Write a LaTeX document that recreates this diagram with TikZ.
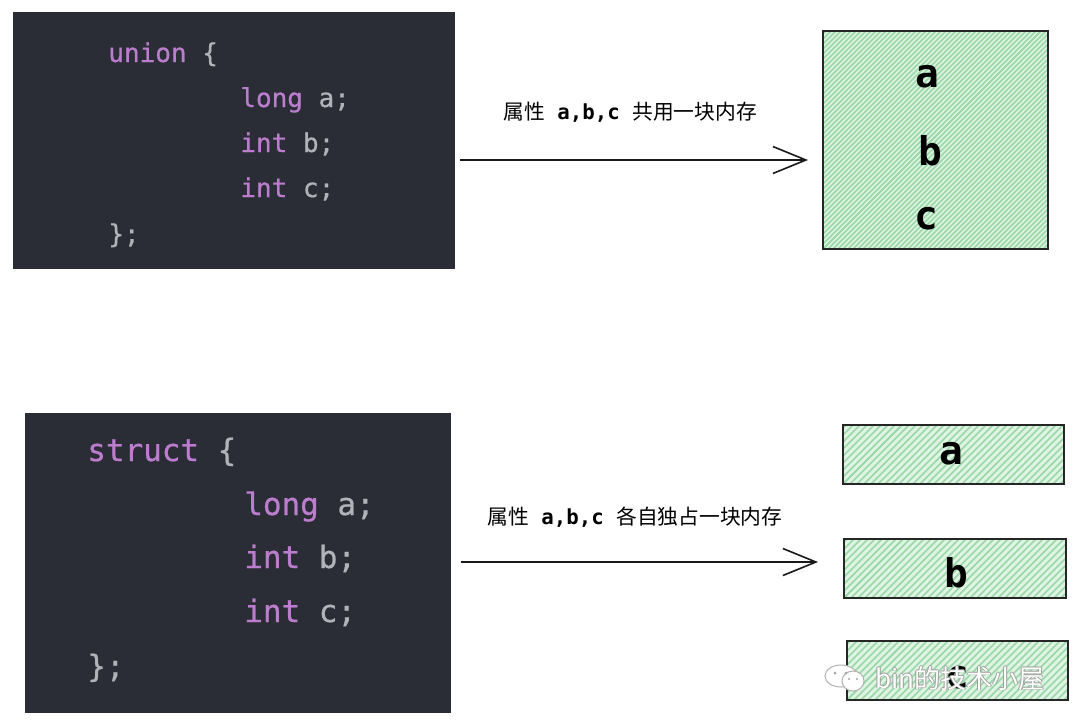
\documentclass[tikz,border=0pt]{standalone}
\usepackage{fontspec}
\setmonofont{DejaVu Sans Mono}
\newfontfamily\cjk{Noto Sans CJK SC}
\newfontfamily\codefont[FakeBold=0.6]{DejaVu Sans Mono}
\usetikzlibrary{arrows.meta}
\definecolor{panelbg}{HTML}{2A2D35}
\definecolor{kwpurple}{HTML}{BC7DCE}
\definecolor{codegray}{HTML}{B0B4BA}
\definecolor{hatchbg}{HTML}{DFF4E3}
\definecolor{hatchline}{HTML}{9AD8A8}
\newcommand{\hatchbox}[6]{% name, x1, y1, x2, y2, spacing
    \begin{scope}
        \clip (#2,#3) rectangle (#4,#5);
        \fill [hatchbg] (#2,#3) rectangle (#4,#5);
        \foreach \d in {0,#6,...,480} {
            \draw [hatchline, line width=0.3mm] ({#2+\d},{#5}) -- ({#2+\d+260},{#5-260});
            \draw [hatchline, line width=0.3mm] ({#2-\d},{#5}) -- ({#2-\d+260},{#5-260});
        }
    \end{scope}
    \node [sketchbox, fit coords={#2}{#3}{#4}{#5}] (#1) at ({(#2+#4)/2},{(#3+#5)/2}) {};
}
\tikzset{
    panel/.style={fill=panelbg, inner sep=0pt},
    sketchbox/.style={draw=black!85, line width=0.36mm, inner sep=0pt},
    fit coords/.code n args={4}{%
        \pgfmathsetmacro{\boxw}{abs(#3-#1)*0.02}%
        \pgfmathsetmacro{\boxh}{abs(#4-#2)*0.02}%
        \pgfkeysalso{minimum width=\boxw cm, minimum height=\boxh cm}},
    smallcode/.style={anchor=base west, inner sep=0pt, font=\fontsize{14.8}{16}\codefont},
    bigcode/.style={anchor=base west, inner sep=0pt, font=\fontsize{17.6}{20}\codefont},
    letter/.style={inner sep=0pt, anchor=base, font=\fontsize{22.5}{24}\ttfamily\bfseries},
    caption/.style={anchor=base west, inner sep=0pt, font=\fontsize{11.8}{14}\cjk},
    sketcharrow/.style={-{Straight Barb[length=0.66cm, width=0.54cm]}, line width=0.32mm, black!90},
    markicon/.style={fill=white, draw=gray!60, line width=0.2mm},
    marktext/.style={anchor=base west, inner sep=0pt, font=\fontsize{14.8}{18}\cjk},
}
\newcommand{\abc}{\hspace{7.2pt}{\fontsize{11.8}{14}\ttfamily\bfseries a,b,c}\hspace{7.2pt}}
\begin{document}
\begin{tikzpicture}[x=0.02cm, y=-0.02cm]
    \useasboundingbox (0,0) rectangle (1080,725);
    \fill [white] (0,0) rectangle (1080,725);
    % code panels
    \node [panel, minimum width=8.86cm, minimum height=5.14cm] (unionpanel) at (234,140.5) {};
    \node [panel, minimum width=8.52cm, minimum height=6cm] (structpanel) at (238,563) {};
    \node [smallcode, text=kwpurple] (u1) at (108,62) {union \textcolor{codegray}{\{}};
    \node [smallcode, text=kwpurple] (u2) at (240,107) {long \textcolor{codegray}{a;}};
    \node [smallcode, text=kwpurple] (u3) at (240,152) {int \textcolor{codegray}{b;}};
    \node [smallcode, text=kwpurple] (u4) at (240,197) {int \textcolor{codegray}{c;}};
    \node [smallcode, text=codegray] (u5) at (108,243) {\};};
    \node [bigcode, text=kwpurple] (s1) at (87,461) {struct \textcolor{codegray}{\{}};
    \node [bigcode, text=kwpurple] (s2) at (244,515) {long \textcolor{codegray}{a;}};
    \node [bigcode, text=kwpurple] (s3) at (244,568) {int \textcolor{codegray}{b;}};
    \node [bigcode, text=kwpurple] (s4) at (244,622) {int \textcolor{codegray}{c;}};
    \node [bigcode, text=codegray] (s5) at (87,677) {\};};
    % memory blocks
    \hatchbox{unionblock}{823}{31}{1048}{249}{5}
    \hatchbox{blocka}{843}{425}{1064}{484}{7}
    \hatchbox{blockb}{844}{539}{1066}{598}{7}
    \hatchbox{blockc}{847}{641}{1068}{700}{7}
    \node [letter] (la) at (927,87) {a};
    \node [letter] (lb) at (930,165) {b};
    \node [letter] (lc) at (926,229) {c};
    \node [letter] (sa) at (951,464) {a};
    \node [letter] (sb) at (956.5,587) {b};
    \node [letter] (sc) at (957,688) {c};
    % captions and arrows
    \node [caption] (cap1) at (503,119) {属性\abc 共用一块内存};
    \node [caption] (cap2) at (487,524) {属性\abc 各自独占一块内存};
    \coordinate (arrow1in) at (460,160);
    \coordinate (arrow1out) at (808,160);
    \coordinate (arrow2in) at (461,562);
    \coordinate (arrow2out) at (818,562);
    \draw [sketcharrow] (arrow1in) -- (arrow1out);
    \draw [sketcharrow] (arrow2in) -- (arrow2out);
    % watermark
    \filldraw [markicon] (841,676) ellipse (16 and 11);
    \filldraw [markicon] (853,681) ellipse (11 and 10);
    \fill [gray!70] (835,673) circle (1.5) (846,673) circle (1.5) (849,679) circle (1.2) (857,679) circle (1.2);
    \foreach \dx/\dy in {-0.8/0,0.8/0,0/-0.8,0/0.8}
        \node [marktext, text=gray!75] at (875+\dx,688+\dy) {bin的技术小屋};
    \node [marktext, text=white] (mark) at (875,688) {bin的技术小屋};
\end{tikzpicture}
\end{document}
